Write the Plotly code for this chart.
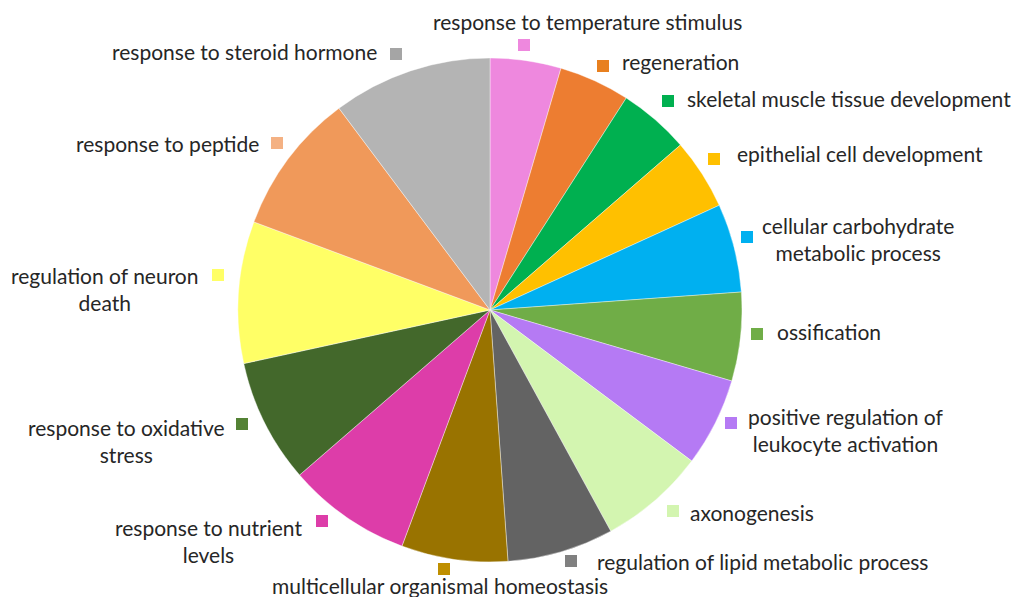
import plotly.graph_objects as go

# ---- data ----
categories = [
    "response to temperature stimulus",
    "regeneration",
    "skeletal muscle tissue development",
    "epithelial cell development",
    "cellular carbohydrate<br>metabolic process",
    "ossification",
    "positive regulation of<br>leukocyte activation",
    "axonogenesis",
    "regulation of lipid metabolic process",
    "multicellular organismal homeostasis",
    "response to nutrient<br>levels",
    "response to oxidative<br>stress",
    "regulation of neuron<br>death",
    "response to peptide",
    "response to steroid hormone",
]
counts = [4, 4, 4, 4, 5, 5, 5, 6, 6, 6, 7, 7, 8, 8, 9]

# ---- styles ----
slice_colors = ["#EE88DE", "#ED7D31", "#00B050", "#FFC000", "#00B0F0", "#70AD47",
                "#B57AF4", "#D3F5B0", "#636363", "#997300", "#DD3DA9", "#43682B",
                "#FFFF66", "#F0995A", "#B4B4B4"]
key_colors = ["#EE88DE", "#E8801F", "#00B050", "#FFC000", "#00B0F0", "#70AD47",
              "#B57AF4", "#D3F5B0", "#808080", "#BF8F00", "#DD3DA9", "#548235",
              "#FFFF66", "#F4B183", "#A5A5A5"]

# label text centres (pixels) and key-square centres (pixels)
text_pos = [(587, 22), (680, 62), (849, 99), (860, 154), (858, 239), (829, 331),
            (846, 430), (752, 512), (762, 561), (440, 585), (208, 541),
            (126, 441), (105, 289), (167, 144), (244, 51)]
key_pos = [(524, 45), (603, 66), (668, 101), (714, 159), (747, 237), (757, 334),
           (731, 423), (673, 511), (571, 561), (444, 569), (322, 521),
           (242, 424), (218, 275), (277, 143), (396, 54)]

W, H = 1031, 597
cx, cy, r = 490, 310, 252

fig = go.Figure(go.Pie(
    labels=categories,
    values=counts,
    sort=False,
    direction="clockwise",
    rotation=0,
    textinfo="none",
    hoverinfo="label+value",
    marker=dict(colors=slice_colors, line=dict(color="white", width=0.4)),
    domain=dict(x=[(cx - r) / W, (cx + r) / W],
                y=[1 - (cy + r) / H, 1 - (cy - r) / H]),
    showlegend=False,
))

annotations = []
shapes = []
for lab, (tx, ty), (kx, ky), kc in zip(categories, text_pos, key_pos, key_colors):
    annotations.append(dict(
        text=lab, x=tx / W, y=1 - ty / H, xref="paper", yref="paper",
        xanchor="center", yanchor="middle", showarrow=False, align="center",
        font=dict(family="Lato, Open Sans, sans-serif", size=21, color="#262626"),
    ))
    shapes.append(dict(
        type="rect", xref="paper", yref="paper",
        xsizemode="pixel", ysizemode="pixel",
        xanchor=kx / W, yanchor=1 - ky / H,
        x0=-6, x1=6, y0=-6, y1=6,
        fillcolor=kc, line=dict(width=0),
    ))

fig.update_layout(
    width=W, height=H,
    margin=dict(l=0, r=0, t=0, b=0),
    paper_bgcolor="white", plot_bgcolor="white",
    annotations=annotations, shapes=shapes,
)

fig.write_html("out.html",
               config={"displayModeBar": False},
               post_script="document.body.style.margin='0';document.body.style.overflow='hidden';")
